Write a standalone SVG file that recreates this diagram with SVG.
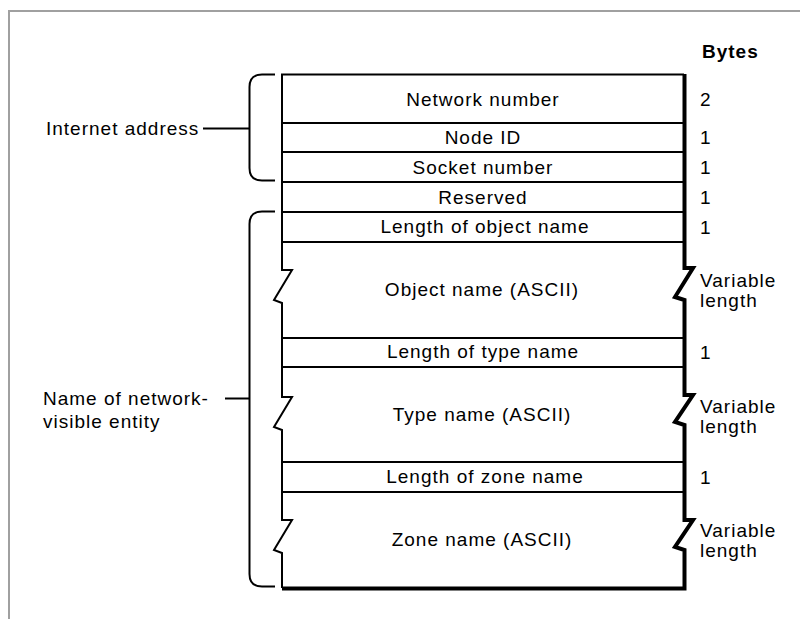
<svg xmlns="http://www.w3.org/2000/svg" width="800" height="619" viewBox="0 0 800 619">
  <style>
    .lbl { font-family: "Liberation Sans", Arial, sans-serif; font-size: 19px; letter-spacing: 1px; fill: #000; }
    .mid { text-anchor: middle; }
    .head { font-weight: bold; letter-spacing: 1px; }
    .thin { fill: none; stroke: #000; stroke-width: 2; }
    .thick { fill: none; stroke: #000; stroke-width: 4; }
    .frame { fill: none; stroke: #a0a0a0; stroke-width: 2; }
  </style>

  <!-- page frame -->
  <path class="frame" d="M9,619 V11 H800"/>

  <!-- column heading -->
  <g id="bytes-heading">
    <text class="lbl head" x="702" y="58">Bytes</text>
  </g>

  <!-- record outline: left edge with break marks, right edge heavy with break marks -->
  <g id="record-frame">
    <path class="thin" d="M282,588 V553 L274,550 L292,520 H282 V430 L274,427 L292,397 H282 V303 L274,300 L292,270 H282 V74.5 H684"/>
    <path class="thick" d="M282,588.5 H684.5 V550 L675,547 L693,520 H684.5 V425 L675,422 L693,395 H684.5 V300 L675,297 L693,268 H684.5 V74"/>
    <g class="thin">
      <line x1="282" y1="123" x2="684" y2="123"/>
      <line x1="282" y1="152" x2="684" y2="152"/>
      <line x1="282" y1="182" x2="684" y2="182"/>
      <line x1="282" y1="212" x2="684" y2="212"/>
      <line x1="282" y1="242" x2="684" y2="242"/>
      <line x1="282" y1="338" x2="684" y2="338"/>
      <line x1="282" y1="367" x2="684" y2="367"/>
      <line x1="282" y1="462" x2="684" y2="462"/>
      <line x1="282" y1="492" x2="684" y2="492"/>
    </g>
  </g>

  <!-- fields -->
  <g id="network-number">
    <text class="lbl mid" x="483" y="106">Network number</text>
    <text class="lbl" x="700" y="106">2</text>
  </g>
  <g id="node-id">
    <text class="lbl mid" x="483" y="144">Node ID</text>
    <text class="lbl" x="700" y="144">1</text>
  </g>
  <g id="socket-number">
    <text class="lbl mid" x="483" y="174">Socket number</text>
    <text class="lbl" x="700" y="174">1</text>
  </g>
  <g id="reserved">
    <text class="lbl mid" x="483" y="204">Reserved</text>
    <text class="lbl" x="700" y="204">1</text>
  </g>
  <g id="object-name-length">
    <text class="lbl mid" x="485" y="233">Length of object name</text>
    <text class="lbl" x="700" y="234">1</text>
  </g>
  <g id="object-name">
    <text class="lbl mid" x="482" y="296">Object name (ASCII)</text>
    <text class="lbl" x="700" y="287">Variable</text>
    <text class="lbl" x="700" y="307">length</text>
  </g>
  <g id="type-name-length">
    <text class="lbl mid" x="483" y="358">Length of type name</text>
    <text class="lbl" x="700" y="359">1</text>
  </g>
  <g id="type-name">
    <text class="lbl mid" x="482" y="421">Type name (ASCII)</text>
    <text class="lbl" x="700" y="413">Variable</text>
    <text class="lbl" x="700" y="433">length</text>
  </g>
  <g id="zone-name-length">
    <text class="lbl mid" x="485" y="483">Length of zone name</text>
    <text class="lbl" x="700" y="484">1</text>
  </g>
  <g id="zone-name">
    <text class="lbl mid" x="482" y="546">Zone name (ASCII)</text>
    <text class="lbl" x="700" y="537">Variable</text>
    <text class="lbl" x="700" y="557">length</text>
  </g>

  <!-- grouping braces and their labels -->
  <g id="internet-address">
    <path class="thin" d="M275,74.5 H262 Q249.5,74.5 249.5,87 V168 Q249.5,180.5 262,180.5 H275"/>
    <text class="lbl" x="46" y="135">Internet address</text>
  </g>
  <g id="entity-name">
    <path class="thin" d="M275,211.5 H262 Q249.5,211.5 249.5,224 V574 Q249.5,586.5 262,586.5 H275"/>
    <text class="lbl" x="43" y="405">Name of network-</text>
    <text class="lbl" x="43" y="428">visible entity</text>
  </g>

  <!-- label leaders -->
  <g id="connectors" class="thin">
    <line x1="203" y1="128.5" x2="249.5" y2="128.5"/>
    <line x1="225" y1="398.5" x2="249.5" y2="398.5"/>
  </g>
</svg>
